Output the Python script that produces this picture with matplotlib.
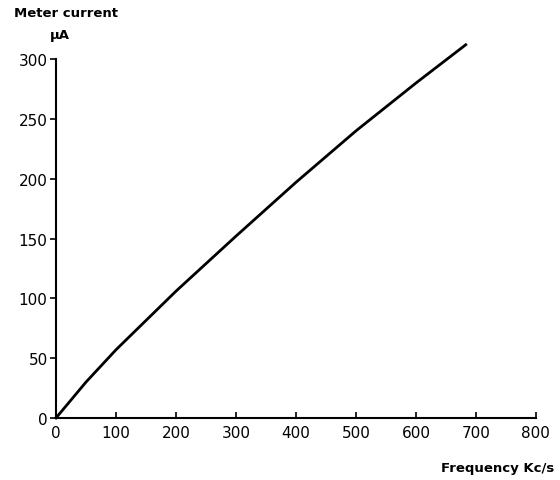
import matplotlib
matplotlib.use('Agg')
from matplotlib import pyplot as plt

# frequency (Kc/s) vs meter current (uA)
freq = [0, 50, 100, 200, 300, 400, 500, 600, 683]
current = [0, 30, 57, 106, 152, 197, 240, 280, 312]

x_ticks = [0, 100, 200, 300, 400, 500, 600, 700, 800]
y_ticks = [0, 50, 100, 150, 200, 250, 300]

fig = plt.figure(figsize=(5.6, 4.81), dpi=100)
ax = fig.add_axes([0.1, 0.129, 0.857, 0.746])

ax.plot(freq, current, color='black', linewidth=2, clip_on=False)

ax.set_xlim(0, 800)
ax.set_ylim(0, 300)
ax.set_xticks(x_ticks)
ax.set_yticks(y_ticks)
ax.tick_params(axis='x', direction='in', length=4, width=1.2, labelsize=11, pad=5)
ax.tick_params(axis='y', direction='out', length=4, width=1.2, labelsize=11, pad=2)

for side in ['top', 'right']:
    ax.spines[side].set_visible(False)
for side in ['left', 'bottom']:
    ax.spines[side].set_linewidth(1.5)

fig.text(0.025, 0.971, 'Meter current', fontsize=9.5, fontweight='bold', va='center')
fig.text(0.089, 0.927, 'μA', fontsize=9.5, fontweight='bold', va='center')
fig.text(0.99, 0.027, 'Frequency Kc/s', fontsize=9.5, fontweight='bold', ha='right', va='center')

plt.savefig('out.png', dpi=100)
